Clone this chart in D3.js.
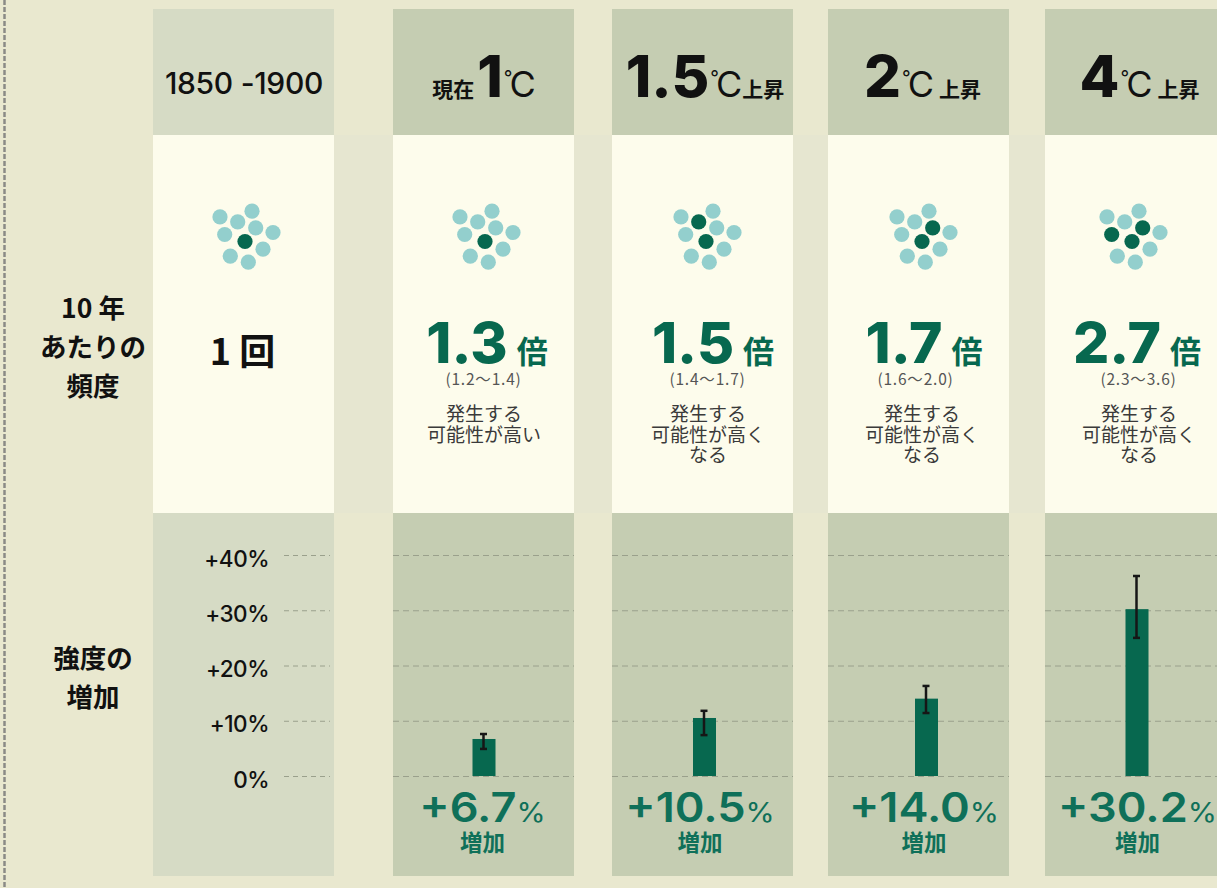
<!DOCTYPE html>
<html lang="ja">
<head>
<meta charset="utf-8">
<script src="https://d3js.org/d3.v7.min.js"></script>
<style>
  html, body { margin: 0; padding: 0; background: #e8e7cd; overflow: hidden; }
  text { font-family: Inter, "Noto Sans CJK JP", sans-serif; }
  .jp { font-family: "Noto Sans CJK JP", sans-serif; }
</style>
</head>
<body>
<div id="vis"></div>
<script>
// data
var categories = ["1850-1900", "1", "1.5", "2", "4"];
var multiples = ["1.3", "1.5", "1.7", "2.7"];
var multipleRanges = ["(1.2〜1.4)", "(1.4〜1.7)", "(1.6〜2.0)", "(2.3〜3.6)"];
var notes = [["発生する", "可能性が高い"], ["発生する", "可能性が高く", "なる"], ["発生する", "可能性が高く", "なる"], ["発生する", "可能性が高く", "なる"]];
var increases = [6.7, 10.5, 14.0, 30.2];
var increaseHigh = [7.6, 11.8, 16.3, 36.2];
var increaseLow = [4.9, 7.4, 11.4, 25.0];
var yTicks = [0, 10, 20, 30, 40];
var darkDots = [[6], [6], [2, 6], [3, 6], [3, 5, 6]];
// ten dots, as offsets from the centre dot
var dotU = [-25, 7, -7.3, 10.7, 28, -20.3, 0, 18, -14.7, 3.3];
var dotV = [-24.6, -30.3, -19.6, -13.6, -9, -7, 0, 7.7, 14.7, 20.7];

var W = 1217, H = 888;
var colW = 181;
var colors = {
  bg: "#e9e8cf", gutter: "#e6e6d0", head0: "#d6dbc5", head: "#c5cdb2",
  mid: "#fdfcec", green: "#07684f", label: "#0f7059", teal: "#93cfcd", grid: "#9aa08c", ink: "#111"
};

var warming = categories.slice(1);
var colLeft = d3.scaleOrdinal().domain(categories).range([153, 393, 612, 828, 1045]);
var dotCenter = d3.scaleOrdinal().domain(categories).range([245, 485, 706, 922, 1132]);
var barCenter = d3.scaleOrdinal().domain(warming).range([484, 704.5, 926.5, 1137]);
var multCenter = d3.scaleOrdinal().domain(warming).range([487, 713, 924, 1137]);
var noteCenter = d3.scaleOrdinal().domain(warming).range([484, 708, 922, 1139]);
var rangeCenter = d3.scaleOrdinal().domain(warming).range([483.5, 707.5, 915.5, 1138.5]);
var valueCenter = d3.scaleOrdinal().domain(warming).range([482.5, 700, 924, 1137.5]);
var y = d3.scaleLinear().domain([0, 40]).range([776, 555]);

var svg = d3.select("#vis").append("svg")
    .attr("width", W)
    .attr("height", H)
    .style("display", "block");

svg.append("rect").attr("width", W).attr("height", H).attr("fill", colors.bg);
svg.append("rect")
    .attr("x", 334).attr("y", 135).attr("width", W - 334).attr("height", 378)
    .attr("fill", colors.gutter);

// dotted rule on the far left
svg.append("line")
    .attr("x1", 4.5).attr("x2", 4.5).attr("y1", 0).attr("y2", H)
    .attr("stroke", "#8a8a86").attr("stroke-width", 2.5)
    .attr("stroke-dasharray", "5 2");

// column panels
var cols = svg.selectAll(".col")
    .data(categories)
  .enter().append("g")
    .attr("class", "col")
    .attr("transform", function(d) { return "translate(" + colLeft(d) + ",0)"; });

cols.append("rect")
    .attr("y", 9).attr("width", colW).attr("height", 126)
    .attr("fill", function(d, i) { return i == 0 ? colors.head0 : colors.head; });
cols.append("rect")
    .attr("y", 135).attr("width", colW).attr("height", 378)
    .attr("fill", colors.mid);
cols.append("rect")
    .attr("y", 513).attr("width", colW).attr("height", 363)
    .attr("fill", function(d, i) { return i == 0 ? colors.head0 : colors.head; });

// headers
var degree = [
  {text: "°", size: 19, weight: 400, dx: 1, dy: -13},
  {text: "C", size: 36, weight: 400, dx: -3, dy: 13}
];
function bigHeader(cx, parts) {
  var t = svg.append("text")
      .attr("x", cx).attr("y", 97)
      .attr("text-anchor", "middle")
      .attr("fill", colors.ink);
  parts.forEach(function(p) {
    t.append("tspan")
        .attr("class", p.jp ? "jp" : null)
        .attr("font-size", p.size)
        .attr("font-weight", p.weight)
        .attr("letter-spacing", p.spacing || 0)
        .attr("dx", p.dx || 0)
        .attr("dy", p.dy || 0)
        .text(p.text);
  });
}

svg.append("text")
    .attr("x", colLeft(categories[0]) + colW / 2 + 0.5).attr("y", 94)
    .attr("text-anchor", "middle")
    .attr("font-size", 30).attr("font-weight", 500)
    .attr("letter-spacing", -0.3)
    .attr("fill", colors.ink)
    .text("1850 -1900");

bigHeader(484, [{text: "現在", size: 21, weight: 700, jp: true}, {text: "1", size: 58, weight: 800, dx: 3}].concat(degree));
bigHeader(705, [{text: "1.5", size: 58, weight: 800}].concat(degree, [{text: "上昇", size: 21, weight: 700, jp: true, dx: 0}]));
bigHeader(922.5, [{text: "2", size: 58, weight: 800}].concat(degree, [{text: "上昇", size: 21, weight: 700, jp: true, dx: 5}]));
bigHeader(1139.5, [{text: "4", size: 58, weight: 800}].concat(degree, [{text: "上昇", size: 21, weight: 700, jp: true, dx: 5}]));

// ten-dot glyphs, the dark ones are the events
categories.forEach(function(c, ci) {
  svg.append("g").selectAll("circle")
      .data(dotU)
    .enter().append("circle")
      .attr("cx", function(d) { return dotCenter(c) + d; })
      .attr("cy", function(d, i) { return 241.5 + dotV[i]; })
      .attr("r", 7.6)
      .attr("fill", function(d, i) { return darkDots[ci].indexOf(i) >= 0 ? colors.green : colors.teal; });
});

// row labels
function rowLabel(lines, y0) {
  svg.append("g").selectAll("text")
      .data(lines)
    .enter().append("text")
      .attr("class", "jp")
      .attr("x", 93)
      .attr("y", function(d, i) { return y0 + i * 39; })
      .attr("text-anchor", "middle")
      .attr("font-size", 26.5).attr("font-weight", 700)
      .attr("fill", colors.ink)
      .text(function(d) { return d; });
}
rowLabel(["10 年", "あたりの", "頻度"], 318);
rowLabel(["強度の", "増加"], 668);

svg.append("text")
    .attr("class", "jp")
    .attr("x", colLeft(categories[0]) + colW / 2 - 1).attr("y", 365)
    .attr("text-anchor", "middle")
    .attr("font-size", 36).attr("font-weight", 700)
    .attr("fill", colors.ink)
    .text("1 回");

// y axis in the first column
var axisG = svg.append("g")
    .attr("transform", "translate(284,0)")
    .call(d3.axisRight(y).tickValues(yTicks).tickSize(46)
      .tickFormat(function(d) { return d == 0 ? "0%" : "+" + d + "%"; }));
axisG.select(".domain").remove();
axisG.selectAll(".tick line")
    .attr("stroke", colors.grid).attr("stroke-dasharray", "5 4");
axisG.selectAll(".tick text")
    .attr("x", -15).attr("dy", "0.32em")
    .attr("text-anchor", "end")
    .attr("font-family", "Inter, sans-serif")
    .attr("font-size", 22.5).attr("font-weight", 500)
    .attr("letter-spacing", -0.5)
    .attr("fill", colors.ink)
    .attr("transform", "translate(0,4)");

// one panel per warming level
warming.forEach(function(c, i) {
  var cx = barCenter(c);

  // multiple of frequency
  var m = svg.append("text")
      .attr("x", multCenter(c)).attr("y", 363)
      .attr("text-anchor", "middle")
      .attr("fill", colors.green);
  m.append("tspan").attr("font-size", 57).attr("font-weight", 800).text(multiples[i]);
  m.append("tspan").attr("class", "jp").attr("font-size", 31).attr("font-weight", 700).attr("dx", 9).text("倍");

  svg.append("text")
      .attr("class", "jp")
      .attr("x", rangeCenter(c)).attr("y", 385)
      .attr("text-anchor", "middle")
      .attr("font-size", 15.5).attr("font-weight", 400)
      .attr("letter-spacing", 0.8)
      .attr("fill", "#555")
      .text(multipleRanges[i]);

  svg.append("g").selectAll("text")
      .data(notes[i])
    .enter().append("text")
      .attr("class", "jp")
      .attr("x", noteCenter(c))
      .attr("y", function(d, k) { return 421 + k * 20.7; })
      .attr("text-anchor", "middle")
      .attr("font-size", 19).attr("fill", "#3a3a3a")
      .text(function(d) { return d; });

  // gridlines
  var g = svg.append("g")
      .attr("transform", "translate(" + colLeft(c) + ",0)")
      .call(d3.axisRight(y).tickValues(yTicks).tickSize(colW).tickFormat(""));
  g.select(".domain").remove();
  g.selectAll(".tick line")
      .attr("stroke", colors.grid).attr("stroke-dasharray", "6 4");

  // bar
  svg.append("rect")
      .attr("x", cx - 11.5)
      .attr("y", y(increases[i]))
      .attr("width", 23)
      .attr("height", y(0) - y(increases[i]))
      .attr("fill", colors.green);

  // error bar
  var ex = cx - 0.5;
  svg.append("line")
      .attr("x1", ex).attr("x2", ex)
      .attr("y1", y(increaseHigh[i])).attr("y2", y(increaseLow[i]))
      .attr("stroke", "#161616").attr("stroke-width", 2.5);
  [increaseHigh[i], increaseLow[i]].forEach(function(v) {
    svg.append("line")
        .attr("x1", ex - 3.5).attr("x2", ex + 3.5)
        .attr("y1", y(v)).attr("y2", y(v))
        .attr("stroke", "#161616").attr("stroke-width", 2.5);
  });

  // value label, the face of the original is wider than Inter
  var v = svg.append("text")
      .attr("transform", "translate(" + valueCenter(c) + ",822) scale(1.1,1)")
      .attr("text-anchor", "middle")
      .attr("fill", colors.label);
  v.append("tspan").attr("font-size", 41).attr("font-weight", 600).text("+" + increases[i].toFixed(1));
  v.append("tspan").attr("font-size", 27).attr("font-weight", 400).text("%");

  svg.append("text")
      .attr("class", "jp")
      .attr("x", valueCenter(c)).attr("y", 851)
      .attr("text-anchor", "middle")
      .attr("font-size", 22.5).attr("font-weight", 700)
      .attr("fill", colors.label)
      .text("増加");
});
</script>
</body>
</html>
